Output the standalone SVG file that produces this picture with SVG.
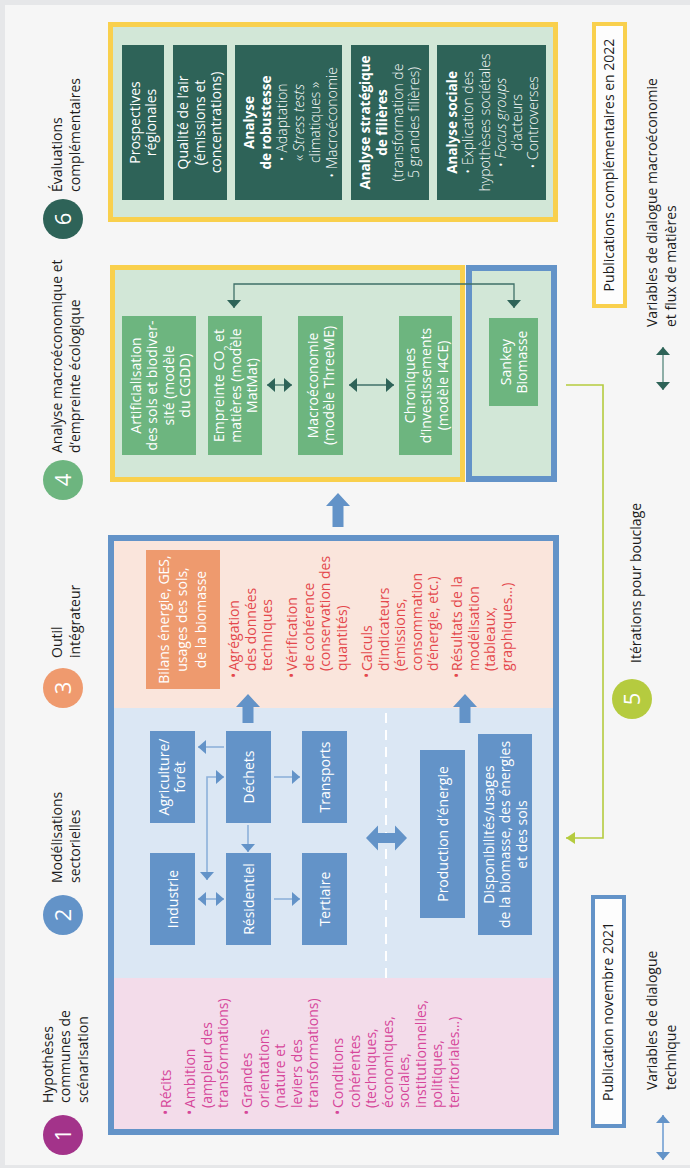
<svg xmlns="http://www.w3.org/2000/svg" width="690" height="1168" viewBox="0 0 690 1168">
<style>
.t{font-family:"Open Sans","Liberation Sans",Arial,sans-serif;font-size:14px}
.hd{fill:#1c1c1c;font-weight:500}
.w{fill:#fff;font-weight:500}
.c{text-anchor:middle}
.b{font-weight:700;font-size:13.5px}
.l{font-weight:300}
.pk{fill:#d6469a}
.rd{fill:#e4484c}
.num{font-family:"Open Sans","Liberation Sans",Arial,sans-serif;font-size:22px;fill:#fff;text-anchor:middle;font-weight:500}
.bc{fill:#6393c8}
.gc{fill:#6db57f}
.tc{fill:#2e6358}
.bl{stroke:#8db1da;stroke-width:1.6;fill:none}
.tl{stroke:#3f7068;stroke-width:1.3;fill:none}
.thick{fill:#6393c8}
</style>
<defs>
<marker id="hb" viewBox="0 0 8 14" refX="8" refY="7" markerWidth="8" markerHeight="14" markerUnits="userSpaceOnUse" orient="auto-start-reverse"><path d="M0,0 L8,7 L0,14 z" fill="#6393c8"/></marker>
<marker id="ht" viewBox="0 0 8 14" refX="8" refY="7" markerWidth="8" markerHeight="14" markerUnits="userSpaceOnUse" orient="auto-start-reverse"><path d="M0,0 L8,7 L0,14 z" fill="#2e6358"/></marker>
<marker id="hl" viewBox="0 0 9 12" refX="9" refY="6" markerWidth="9" markerHeight="12" markerUnits="userSpaceOnUse" orient="auto-start-reverse"><path d="M0,0 L9,6 L0,12 z" fill="#b5cb3f"/></marker>
</defs>
<rect x="0" y="0" width="690" height="1168" fill="#e6e7e9"/>
<rect x="5" y="5" width="685" height="1160" fill="#f6f6f6"/>
<g transform="matrix(0 -1 1 0 0 1168)">

<!-- Section frames -->
<g id="frame-modelisation">
<rect x="39" y="114" width="151" height="439" fill="#f3dcea"/>
<rect x="190" y="114" width="270" height="439" fill="#dbe7f4"/>
<rect x="460" y="114" width="167" height="439" fill="#fae5dc"/>
<line x1="190" y1="386" x2="460" y2="386" stroke="#fff" stroke-width="2" stroke-dasharray="10 7"/>
<rect x="36" y="111" width="594" height="445" fill="none" stroke="#6393c8" stroke-width="6"/>
</g>
<g id="frame-macro">
<rect x="688.5" y="112.5" width="212" height="350" fill="#d2e7d7" stroke="#f9d04d" stroke-width="5"/>
</g>
<g id="frame-sankey">
<rect x="689" y="469" width="211" height="85" fill="#d2e7d7" stroke="#6393c8" stroke-width="6"/>
</g>
<g id="frame-evaluations">
<rect x="948.5" y="110.5" width="195" height="445" fill="#d2e7d7" stroke="#f9d04d" stroke-width="5"/>
</g>

<!-- Headers -->
<g id="header-1">
<circle cx="33" cy="63" r="20" fill="#a3338a"/>
<text class="num" x="33" y="71">1</text>
<text class="t hd" x="65" y="52.5">Hypothèses</text>
<text class="t hd" x="65" y="70">communes de</text>
<text class="t hd" x="65" y="87.5">scénarisation</text>
</g>
<g id="header-2">
<circle cx="253" cy="63" r="20" fill="#6393c8"/>
<text class="num" x="253" y="71">2</text>
<text class="t hd" x="285" y="62">Modélisations</text>
<text class="t hd" x="285" y="79.5">sectorielles</text>
</g>
<g id="header-3">
<circle cx="480" cy="63" r="20" fill="#ef9a6e"/>
<text class="num" x="480" y="71">3</text>
<text class="t hd" x="510" y="62">Outil</text>
<text class="t hd" x="510" y="79.5">intégrateur</text>
</g>
<g id="header-4">
<circle cx="688" cy="63" r="20" fill="#6db57f"/>
<text class="num" x="688" y="71">4</text>
<text class="t hd" x="715" y="62">Analyse macroéconomique et</text>
<text class="t hd" x="715" y="79.5">d’empreinte écologique</text>
</g>
<g id="header-5">
<circle cx="469" cy="632" r="20" fill="#b5cb3f"/>
<text class="num" x="469" y="640">5</text>
<text class="t hd" x="505" y="641">Itérations pour bouclage</text>
</g>
<g id="header-6">
<circle cx="949" cy="63" r="20" fill="#2e6358"/>
<text class="num" x="949" y="71">6</text>
<text class="t hd" x="976" y="62">Évaluations</text>
<text class="t hd" x="976" y="79.5">complémentaires</text>
</g>

<!-- Section 1 list -->
<g id="hypotheses-list" class="t pk">
<text x="53" y="171">•</text><text x="60" y="171">Récits</text>
<text x="53" y="195">•</text><text x="60" y="195">Ambition</text>
<text x="60" y="211.5">(ampleur des</text>
<text x="60" y="228">transformations)</text>
<text x="53" y="252">•</text><text x="60" y="252">Grandes</text>
<text x="60" y="268.5">orientations</text>
<text x="60" y="285">(nature et</text>
<text x="60" y="301.5">leviers des</text>
<text x="60" y="318">transformations)</text>
<text x="53" y="343">•</text><text x="60" y="343">Conditions</text>
<text x="60" y="359.5">cohérentes</text>
<text x="60" y="376">(techniques,</text>
<text x="60" y="392.5">économiques,</text>
<text x="60" y="409">sociales,</text>
<text x="60" y="425.5">institutionnelles,</text>
<text x="60" y="442">politiques,</text>
<text x="60" y="458.5">territoriales…)</text>
</g>

<!-- Section 2 nodes -->
<g id="node-industrie"><rect class="bc" x="223" y="150" width="92" height="45"/><text class="t w c" x="269" y="177.5">Industrie</text></g>
<g id="node-residentiel"><rect class="bc" x="223" y="226" width="92" height="45"/><text class="t w c" x="269" y="253.5">Résidentiel</text></g>
<g id="node-tertiaire"><rect class="bc" x="223" y="302" width="92" height="45"/><text class="t w c" x="269" y="329.5">Tertiaire</text></g>
<g id="node-agriculture"><rect class="bc" x="345" y="150" width="92" height="45"/><text class="t w c" x="391" y="169">Agriculture/</text><text class="t w c" x="391" y="185">forêt</text></g>
<g id="node-dechets"><rect class="bc" x="345" y="226" width="92" height="45"/><text class="t w c" x="391" y="253.5">Déchets</text></g>
<g id="node-transports"><rect class="bc" x="345" y="302" width="92" height="45"/><text class="t w c" x="391" y="329.5">Transports</text></g>
<g id="node-production"><rect class="bc" x="250" y="420" width="168" height="45"/><text class="t w c" x="334" y="447.5">Production d’énergie</text></g>
<g id="node-disponibilites"><rect class="bc" x="233" y="478" width="201" height="54"/><text class="t w c" x="333.5" y="493.5">Disponibilités/usages</text><text class="t w c" x="333.5" y="510">de la biomasse, des énergies</text><text class="t w c" x="333.5" y="526.5">et des sols</text></g>

<!-- Section 3 -->
<g id="node-bilans"><rect x="479" y="146" width="139" height="74" fill="#ee9a6e"/><text class="t w c" x="548.5" y="168.5">Bilans énergie, GES,</text><text class="t w c" x="548.5" y="187">usages des sols,</text><text class="t w c" x="548.5" y="205.5">de la biomasse</text></g>
<g id="integrateur-list" class="t rd">
<text x="490" y="239">•</text><text x="497" y="239">Agrégation</text>
<text x="497" y="255.5">des données</text>
<text x="497" y="272">techniques</text>
<text x="490" y="297">•</text><text x="497" y="297">Vérification</text>
<text x="497" y="313.5">de cohérence</text>
<text x="497" y="330">(conservation des</text>
<text x="497" y="346.5">quantités)</text>
<text x="490" y="372">•</text><text x="497" y="372">Calculs</text>
<text x="497" y="388.5">d’indicateurs</text>
<text x="497" y="405">(émissions,</text>
<text x="497" y="421.5">consommation</text>
<text x="497" y="438">d’énergie, etc.)</text>
<text x="490" y="462">•</text><text x="497" y="462">Résultats de la</text>
<text x="497" y="478.5">modélisation</text>
<text x="497" y="495">(tableaux,</text>
<text x="497" y="511.5">graphiques…)</text>
</g>

<!-- Section 4 nodes -->
<g id="node-artificialisation"><rect class="gc" x="713" y="122" width="139" height="74"/><text class="t w c" x="782.5" y="140.5">Artificialisation</text><text class="t w c" x="782.5" y="157">des sols et biodiver-</text><text class="t w c" x="782.5" y="173.5">sité (modèle</text><text class="t w c" x="782.5" y="190">du CGDD)</text></g>
<g id="node-empreinte"><rect class="gc" x="713" y="208" width="139" height="54"/><text class="t w c" x="782.5" y="224">Empreinte CO<tspan font-size="9" baseline-shift="sub">2</tspan> et</text><text class="t w c" x="782.5" y="240.5">matières (modèle</text><text class="t w c" x="782.5" y="257">MatMat)</text></g>
<g id="node-macro"><rect class="gc" x="713" y="298" width="139" height="45"/><text class="t w c" x="782.5" y="317.5">Macroéconomie</text><text class="t w c" x="782.5" y="334">(modèle ThreeME)</text></g>
<g id="node-chroniques"><rect class="gc" x="713" y="399" width="139" height="53"/><text class="t w c" x="782.5" y="414.5">Chroniques</text><text class="t w c" x="782.5" y="431">d’investissements</text><text class="t w c" x="782.5" y="447.5">(modèle I4CE)</text></g>
<g id="node-sankey"><rect class="gc" x="762" y="489" width="88" height="49"/><text class="t w c" x="806" y="510.5">Sankey</text><text class="t w c" x="806" y="527">Biomasse</text></g>

<!-- Section 6 nodes -->
<g id="node-prospectives"><rect class="tc" x="968" y="122" width="155" height="42"/><text class="t w c" x="1045.5" y="139.5">Prospectives</text><text class="t w c" x="1045.5" y="156">régionales</text></g>
<g id="node-qualite-air"><rect class="tc" x="968" y="173" width="155" height="54"/><text class="t w c" x="1045.5" y="188">Qualité de l’air</text><text class="t w c" x="1045.5" y="204.5">(émissions et</text><text class="t w c" x="1045.5" y="221">concentrations)</text></g>
<g id="node-robustesse"><rect class="tc" x="968" y="235" width="155" height="107"/>
<text class="t w c b" x="1045.5" y="254">Analyse</text>
<text class="t w c b" x="1045.5" y="270.5">de robustesse</text>
<text class="t w c l" x="1045.5" y="287">• Adaptation</text>
<text class="t w c l" x="1045.5" y="303.5">« <tspan font-style="italic">Stress tests</tspan></text>
<text class="t w c l" x="1045.5" y="320">climatiques »</text>
<text class="t w c l" x="1045.5" y="336.5">• Macroéconomie</text></g>
<g id="node-filieres"><rect class="tc" x="968" y="351" width="155" height="78"/>
<text class="t w c b" x="1045.5" y="370">Analyse stratégique</text>
<text class="t w c b" x="1045.5" y="386.5">de filières</text>
<text class="t w c l" x="1045.5" y="403">(transformation de</text>
<text class="t w c l" x="1045.5" y="419">5 grandes filières)</text></g>
<g id="node-sociale"><rect class="tc" x="968" y="437" width="155" height="109"/>
<text class="t w c b" x="1045.5" y="457">Analyse sociale</text>
<text class="t w c l" x="1045.5" y="473">• Explication des</text>
<text class="t w c l" x="1045.5" y="489.5">hypothèses sociétales</text>
<text class="t w c l" x="1045.5" y="505.5">• <tspan font-style="italic">Focus groups</tspan></text>
<text class="t w c l" x="1045.5" y="521.5">d’acteurs</text>
<text class="t w c l" x="1045.5" y="537.5">• Controverses</text></g>

<!-- Legend -->
<g id="legend-2022">
<rect x="862" y="594" width="282" height="31" fill="#fdfdfd" stroke="#f9d04d" stroke-width="4"/>
<text class="t hd c" x="1003" y="614">Publications complémentaires en 2022</text>
</g>
<g id="legend-2021">
<rect x="42" y="593" width="229" height="31" fill="#fdfdfd" stroke="#6393c8" stroke-width="4"/>
<text class="t hd c" x="156.5" y="613">Publication novembre 2021</text>
</g>
<g id="legend-macro">
<line x1="778" y1="663" x2="821" y2="663" stroke="#8eaea7" stroke-width="2" marker-start="url(#ht)" marker-end="url(#ht)"/>
<text class="t hd" x="841" y="657">Variables de dialogue macroéconomie</text>
<text class="t hd" x="841" y="676">et flux de matières</text>
</g>
<g id="legend-technique">
<line x1="8" y1="663" x2="53" y2="663" stroke="#8db1da" stroke-width="2" marker-start="url(#hb)" marker-end="url(#hb)"/>
<text class="t hd" x="78" y="657">Variables de dialogue</text>
<text class="t hd" x="78" y="676">technique</text>
</g>

<!-- Connectors -->
<g id="connectors">
<line class="bl" x1="269" y1="198" x2="269" y2="224" marker-start="url(#hb)" marker-end="url(#hb)"/>
<line class="bl" x1="269" y1="274" x2="269" y2="300" marker-end="url(#hb)"/>
<line class="bl" x1="421" y1="224" x2="421" y2="198" marker-end="url(#hb)"/>
<line class="bl" x1="391" y1="274" x2="391" y2="300" marker-end="url(#hb)"/>
<line class="bl" x1="343" y1="248" x2="316" y2="248" marker-end="url(#hb)"/>
<path class="bl" d="M288,207 L391,207 L391,224" marker-start="url(#hb)" marker-end="url(#hb)"/>
<polygon class="thick" points="330,366 342.5,378 335,378 335,395 342.5,395 330,407 317.5,395 325,395 325,378 317.5,378"/>
<polygon class="thick" points="445,242.5 461,242.5 461,236 474,248 461,260 461,253.5 445,253.5"/>
<polygon class="thick" points="445,459.5 461,459.5 461,453 474,465 461,477 461,470.5 445,470.5"/>
<polygon class="thick" points="641,332.5 662,332.5 662,326 675,338 662,350 662,343.5 641,343.5"/>
<line class="tl" x1="783" y1="267" x2="783" y2="292" marker-start="url(#ht)" marker-end="url(#ht)"/>
<line class="tl" x1="783" y1="349" x2="783" y2="394" marker-start="url(#ht)" marker-end="url(#ht)"/>
<path class="tl" d="M860,234 L884,234 L884,514 L860,514" marker-start="url(#ht)" marker-end="url(#ht)"/>
<path d="M783,566 L783,603 L330,603 L330,566" fill="none" stroke="#b5cb3f" stroke-width="1.6" marker-end="url(#hl)"/>
</g>
</g>
</svg>
